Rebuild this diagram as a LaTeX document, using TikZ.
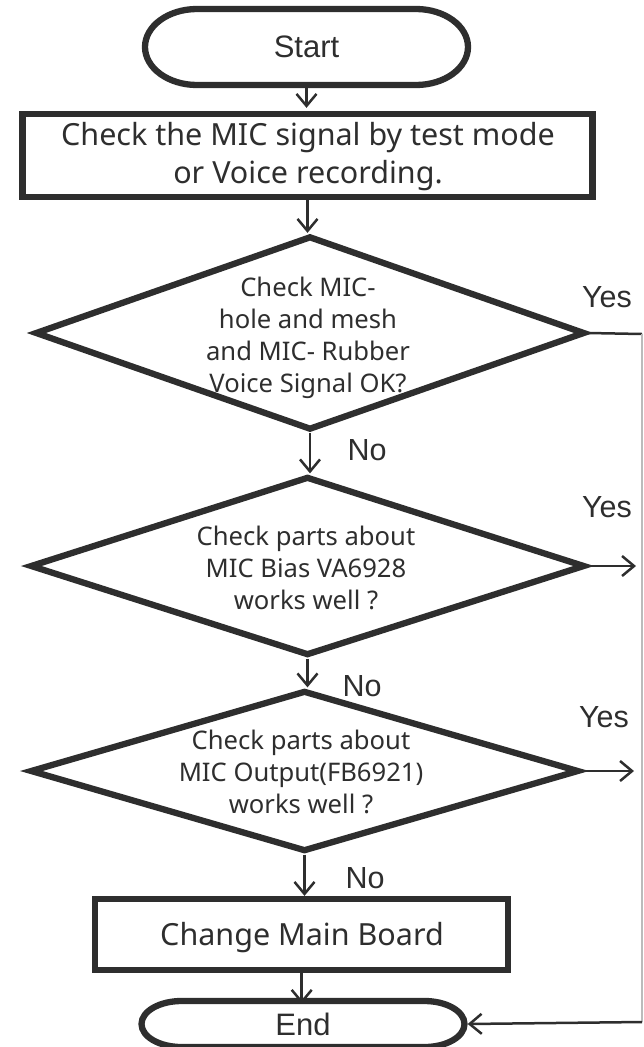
\documentclass[tikz,border=0pt]{standalone}
\usepackage{fontspec}
\setmainfont{Noto Sans}
\newfontfamily\arialf{Liberation Sans}
\usetikzlibrary{arrows.meta,shapes.geometric}
\definecolor{ink}{HTML}{2E2E2E}
\definecolor{rail}{HTML}{BBBBBB}
\begin{document}
\begin{tikzpicture}[x=1pt,y=-1pt,
  border/.style={draw=ink, line width=6.3pt, line join=miter},
  term/.style={rectangle, inner sep=0pt, text=ink, font=\arialf\fontsize{31}{34}\selectfont},
  procbox/.style={border, rectangle, inner sep=0pt},
  ptext/.style={align=center, text=ink, inner sep=0pt, font=\fontsize{30.5}{38}\selectfont},
  decision/.style={border, diamond, inner sep=0pt},
  dtext/.style={align=center, text=ink, inner sep=0pt, font=\fontsize{25.6}{32}\selectfont},
  conn/.style={draw=ink, line width=2.5pt, -{Straight Barb[length=12pt,width=20pt]}},
  plainline/.style={draw=ink, line width=2.5pt},
  railline/.style={draw=rail, line width=1.5pt},
  lbl/.style={text=ink, font=\arialf\fontsize{30.5}{34}\selectfont}
]
\useasboundingbox (0,0) rectangle (643,1047);
\clip (0,0) rectangle (643,1047);
% Start terminal
\node[term, minimum width=323pt, minimum height=76pt] (start) at (306.5,47) {Start};
\draw[border] (197,9) -- (416,9) arc[start angle=-90,end angle=90,x radius=52,y radius=38]
  -- (197,85) arc[start angle=90,end angle=270,x radius=52,y radius=38] -- cycle;
% Process box 1
\node[procbox, minimum width=570pt, minimum height=83pt] (box1) at (307.5,155.5) {};
\node[ptext] (box1t) at (308,157) {Check the MIC signal by test mode\\or Voice recording.};
% Decisions
\node[decision, minimum width=550pt, minimum height=194pt] (d1) at (310,333) {};
\node[dtext] (d1t) at (308,338) {Check MIC-\\hole and mesh\\and MIC- Rubber\\Voice Signal OK?};
\node[decision, minimum width=555pt, minimum height=179pt] (d2) at (307.5,566) {};
\node[dtext] (d2t) at (306,568) {Check parts about\\MIC Bias VA6928\\works well ?};
\node[decision, minimum width=549pt, minimum height=161pt] (d3) at (304.5,771) {};
\node[dtext] (d3t) at (301,772) {Check parts about\\MIC Output(FB6921)\\works well ?};
% Process box 2
\node[procbox, minimum width=413pt, minimum height=71pt] (box2) at (301.7,934.5) {};
\node[ptext] (box2t) at (302,938) {Change Main Board};
% End terminal
\node[term, minimum width=323pt, minimum height=46pt] (end) at (303,1024) {End};
\draw[border] (181.5,1001) -- (424.5,1001) arc[start angle=-90,end angle=90,x radius=40,y radius=23]
  -- (181.5,1047) arc[start angle=90,end angle=270,x radius=40,y radius=23] -- cycle;

\coordinate (r1) at (642,334);
\coordinate (r2) at (642,1022);
\coordinate (y2) at (636,566);
\coordinate (y3) at (634,771);

\draw[conn] ([yshift=3pt]start.south) -- ([yshift=3pt]start.south |- box1.north);
\draw[conn] (box1.south) -- (box1.south |- d1.north);
\draw[conn] (d1.south) -- (d1.south |- d2.north);
\draw[conn] (d2.south) -- (d2.south |- d3.north);
\draw[conn] (d3.south) -- (d3.south |- box2.north);
\draw[conn] (box2.south) -- ([yshift=-3pt]box2.south |- end.north);
\draw[conn] (d2.east) -- (y2);
\draw[conn] (d3.east) -- (y3);
\draw[plainline] (d1.east) -- (r1);
\draw[railline] (r1) -- (r2);
\draw[conn] (r2) -- ([xshift=3pt]end.east);

\node[lbl] (yes1) at (607,297) {Yes};
\node[lbl] (yes2) at (607,507) {Yes};
\node[lbl] (yes3) at (604,717) {Yes};
\node[lbl] (no1) at (367,450) {No};
\node[lbl] (no2) at (362,686) {No};
\node[lbl] (no3) at (365,878) {No};
\end{tikzpicture}
\end{document}
